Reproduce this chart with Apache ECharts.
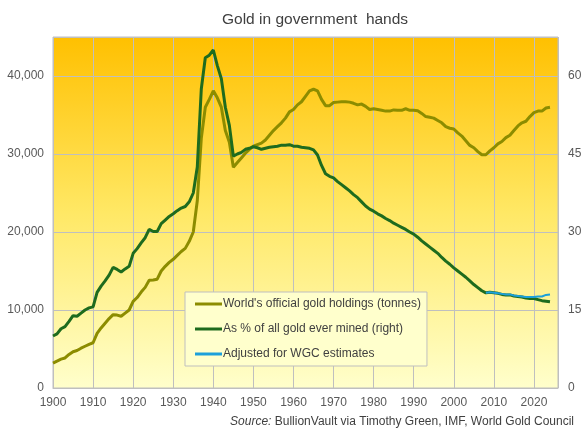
<!DOCTYPE html>
<html>
<head>
<meta charset="utf-8">
<script src="https://cdn.jsdelivr.net/npm/echarts@6/dist/echarts.min.js"></script>
<style>
  html, body { margin: 0; padding: 0; background: #fff; }
  #main { width: 585px; height: 437px; }
</style>
</head>
<body>
<div id="main"></div>
<script>
// holdings, tonnes (left axis)
var holdYears = [1900,1901,1902,1903,1904,1905,1906,1907,1908,1909,1910,1911,1912,1913,1914,1915,1916,1917,1918,1919,
  1920,1921,1922,1923,1924,1925,1926,1927,1928,1929,1930,1931,1932,1933,1934,1935,1936,1937,1938,1939,
  1940,1941,1942,1943,1944,1945,1946,1947,1948,1949,1950,1951,1952,1953,1954,1955,1956,1957,1958,1959,
  1960,1961,1962,1963,1964,1965,1966,1967,1968,1969,1970,1971,1972,1973,1974,1975,1976,1977,1978,1979,
  1980,1981,1982,1983,1984,1985,1986,1987,1988,1989,1990,1991,1992,1993,1994,1995,1996,1997,1998,1999,
  2000,2001,2002,2003,2004,2005,2006,2007,2008,2009,2010,2011,2012,2013,2014,2015,2016,2017,2018,2019,
  2020,2021,2022,2023,2024];
var holdTonnes = [3200,3450,3700,3850,4300,4650,4800,5100,5350,5600,5800,7000,7700,8300,8900,9400,9350,9200,9600,10000,
  11100,11600,12300,12900,13800,13850,13950,15000,15600,16100,16500,17000,17500,17900,18800,20000,24000,32000,36000,37000,
  38100,37200,36000,33000,31500,28300,28900,29500,30100,30600,31000,31200,31400,31800,32400,33000,33500,34000,34600,35400,
  35700,36300,36700,37400,38100,38300,38100,37000,36200,36200,36600,36650,36700,36700,36650,36500,36300,36400,36100,35700,
  35800,35700,35600,35500,35500,35650,35600,35600,35800,35600,35600,35550,35200,34800,34700,34600,34300,34000,33500,33300,
  33200,32700,32300,31700,31100,30800,30300,29900,29900,30400,30800,31300,31600,32100,32400,33000,33600,34000,34200,34800,
  35300,35500,35500,35900,36000];

// share of all gold ever mined, % (right axis)
var pctYears = holdYears;
var pctValues = [10.0,10.4,11.4,11.8,12.8,13.9,13.8,14.4,15.0,15.4,15.6,18.4,19.6,20.6,21.7,23.2,22.8,22.3,22.9,23.4,
  25.9,26.8,27.9,28.9,30.5,30.1,30.1,31.6,32.3,33.0,33.5,34.1,34.6,34.9,35.8,37.5,42.5,57.5,63.5,64.0,
  65.0,62.0,59.5,54.0,50.5,44.6,45.0,45.3,45.9,46.1,46.4,46.2,45.9,46.1,46.3,46.4,46.5,46.7,46.7,46.8,
  46.5,46.5,46.3,46.2,46.1,45.8,44.8,42.8,41.2,40.7,40.4,39.7,39.1,38.5,37.9,37.2,36.6,35.8,35.0,34.4,
  34.0,33.5,33.1,32.6,32.2,31.7,31.3,30.9,30.5,30.0,29.6,29.0,28.3,27.7,27.1,26.5,25.9,25.1,24.4,23.8,
  23.1,22.5,21.9,21.3,20.6,19.9,19.3,18.7,18.3,18.4,18.3,18.2,18.0,17.9,17.9,17.7,17.6,17.5,17.3,17.2,
  17.2,17.0,16.8,16.7,16.6];

// adjusted for WGC estimates, % (right axis)
var adjYears = [2008,2009,2010,2011,2012,2013,2014,2015,2016,2017,2018,2019,2020,2021,2022,2023,2024];
var adjValues = [18.3,18.4,18.3,18.2,18.1,18.0,18.0,17.8,17.7,17.6,17.5,17.5,17.5,17.6,17.6,17.9,18.0];

var names = ["World's official gold holdings (tonnes)", "As % of all gold ever mined (right)", "Adjusted for WGC estimates"];

function zip(xs, ys) {
    var out = [];
    for (var i = 0; i < ys.length; i++) out.push([xs[i], ys[i]]);
    return out;
}

var myChart = echarts.init(document.getElementById('main'));
var font = 'Liberation Sans, Arial, sans-serif';
var gridLine = '#BFBFBF';

option = {
    backgroundColor: '#fff',
    animation: false,
    title: [{
        text: 'Gold in government  hands',
        left: 217,
        top: 7,
        textStyle: { fontFamily: font, fontSize: 15.5, fontWeight: 'normal', color: '#404040' }
    }, {
        text: '{i|Source:} BullionVault via Timothy Green, IMF, World Gold Council',
        right: 6,
        top: 411,
        textStyle: {
            fontFamily: font, fontSize: 12, fontWeight: 'normal', color: '#404040',
            rich: { i: { fontFamily: font, fontSize: 12, fontStyle: 'italic', color: '#404040' } }
        }
    }],
    grid: {
        left: 53, right: 27, top: 37, bottom: 49,
        show: true,
        borderColor: gridLine,
        borderWidth: 1,
        backgroundColor: new echarts.graphic.LinearGradient(0, 0, 0, 1, [
            { offset: 0, color: '#FFC000' },
            { offset: 0.5, color: '#FFE865' },
            { offset: 1, color: '#FFFFCC' }
        ])
    },
    legend: {
        orient: 'vertical',
        left: 185,
        top: 292,
        padding: [5, 6, 5, 10],
        itemGap: 11,
        itemWidth: 27,
        itemHeight: 3,
        icon: 'rect',
        backgroundColor: '#FFFFCC',
        borderColor: gridLine,
        borderWidth: 1,
        textStyle: { fontFamily: font, fontSize: 12, color: '#404040', padding: [0, 0, 0, -4], lineHeight: 14 },
        data: names
    },
    xAxis: {
        type: 'value',
        min: 1900,
        max: 2026,
        interval: 10,
        axisLine: { show: true, lineStyle: { color: gridLine } },
        axisTick: { show: false },
        splitLine: { show: true, lineStyle: { color: gridLine } },
        axisLabel: {
            fontFamily: font, fontSize: 12, color: '#595959', margin: 9,
            formatter: function (v) { return v % 10 === 0 ? String(v) : ''; }
        }
    },
    yAxis: [{
        type: 'value',
        min: 0,
        max: 45000,
        interval: 10000,
        axisLine: { show: false },
        axisTick: { show: false },
        splitLine: { show: true, lineStyle: { color: gridLine } },
        axisLabel: {
            fontFamily: font, fontSize: 12, color: '#595959', margin: 9,
            formatter: function (v) { return v % 10000 === 0 ? v.toLocaleString('en-US') : ''; }
        }
    }, {
        type: 'value',
        min: 0,
        max: 67.5,
        interval: 15,
        axisLine: { show: false },
        axisTick: { show: false },
        splitLine: { show: false },
        axisLabel: {
            fontFamily: font, fontSize: 12, color: '#595959', margin: 10,
            formatter: function (v) { return v % 15 === 0 ? String(v) : ''; }
        }
    }],
    series: [{
        name: names[0],
        type: 'line',
        yAxisIndex: 0,
        symbol: 'none',
        lineStyle: { color: '#8C8C00', width: 3 },
        itemStyle: { color: '#8C8C00' },
        data: zip(holdYears, holdTonnes)
    }, {
        name: names[1],
        type: 'line',
        yAxisIndex: 1,
        symbol: 'none',
        lineStyle: { color: '#1E6B1E', width: 3 },
        itemStyle: { color: '#1E6B1E' },
        data: zip(pctYears, pctValues)
    }, {
        name: names[2],
        type: 'line',
        yAxisIndex: 1,
        symbol: 'none',
        lineStyle: { color: '#1CA0DA', width: 2 },
        itemStyle: { color: '#1CA0DA' },
        data: zip(adjYears, adjValues)
    }]
};

myChart.setOption(option);
</script>
</body>
</html>
